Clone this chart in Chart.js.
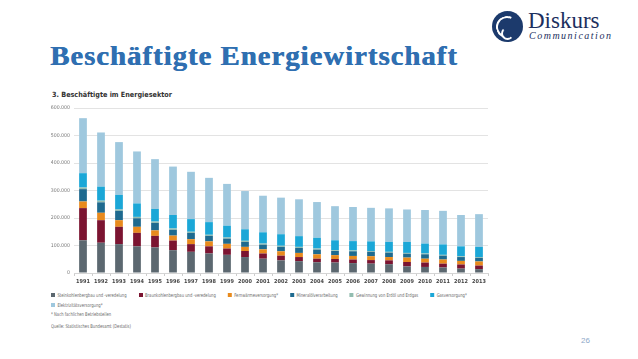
<!DOCTYPE html>
<html>
<head>
<meta charset="utf-8">
<script src="https://cdn.jsdelivr.net/npm/chart.js@4.4.0/dist/chart.umd.min.js"></script>
<style>
  body { margin: 0; width: 638px; height: 359px; background: #fff; position: relative; overflow: hidden; }
  .abs { position: absolute; white-space: nowrap; }
  #title { left: 50px; top: 41px; font: bold 27px "Liberation Serif", serif; color: #2f6fb1; letter-spacing: 1px;
           transform: scaleX(1.06); transform-origin: left top; text-shadow: 0.6px 0 0 #2f6fb1; }
  #logoCircle { left: 492px; top: 11px; width: 31px; height: 31px; border-radius: 50%; background: #1c3a6c; overflow: hidden; }
  #logoCircle .s1 { position: absolute; left: 4px; top: 5px; width: 18px; height: 18px; border-radius: 50%; border: 2px solid #fff; border-color: #fff transparent transparent #fff; transform: rotate(-20deg); }
  #logoCircle .s2 { position: absolute; left: 9px; top: 16px; width: 9px; height: 9px; border-radius: 50%; border: 2px solid #fff; border-color: transparent transparent #fff #fff; }
  #logoName { left: 528px; top: 8px; font: 23px "Liberation Serif", serif; color: #1c2f5e; }
  #logoSub { left: 529px; top: 30px; font: italic 10px "Liberation Serif", serif; color: #1c2f5e; letter-spacing: 1.5px; }
  #sub { left: 52px; top: 90px; font: bold 7.2px "Liberation Sans Narrow", "DejaVu Sans Condensed", sans-serif; color: #333; }
  #chartBox { left: 40px; top: 100px; width: 455px; height: 187px; }
  #legend { left: 51px; top: 291px; width: 540px; display: flex; flex-wrap: wrap; column-gap: 15px; row-gap: 3px;
            font: 5.2px "Liberation Sans Narrow", "DejaVu Sans Condensed", sans-serif; color: #666;
            transform: scaleX(0.8); transform-origin: left top; }
  #legend span.item { display: flex; align-items: center; height: 7px; }
  #legend i { display: inline-block; width: 5px; height: 4px; margin-right: 3px; }
  .note { font: 5.2px "Liberation Sans Narrow", "DejaVu Sans Condensed", sans-serif; color: #666; transform: scaleX(0.8); transform-origin: left top; }
  #page { left: 581px; top: 336px; font: 8px "Liberation Sans", sans-serif; color: #8ea8c8; }
</style>
</head>
<body>
<div id="title" class="abs">Beschäftigte Energiewirtschaft</div>
<div id="logoCircle" class="abs"><div class="s1"></div><div class="s2"></div></div>
<div id="logoName" class="abs">Diskurs</div>
<div id="logoSub" class="abs">Communication</div>
<div id="sub" class="abs">3. Beschäftigte im Energiesektor</div>
<div id="chartBox" class="abs"><canvas id="chart"></canvas></div>
<div id="legend" class="abs"></div>
<div class="abs note" style="left:51px; top:311px;">* Nach fachlichen Betriebsteilen</div>
<div class="abs note" style="left:51px; top:323px;">Quelle: Statistisches Bundesamt (Destatis)</div>
<div id="page" class="abs">26</div>

<script>
var years = ['1991','1992','1993','1994','1995','1996','1997','1998','1999','2000','2001','2002',
             '2003','2004','2005','2006','2007','2008','2009','2010','2011','2012','2013'];

// Beschäftigte in Tausend
var steinkohle  = [119,110,105,97,93,83,77,71,66,58,52,46,43,39,38,36,34,32,24,22,20,16,14];
var braunkohle  = [117,82,63,49,42,35,28,26,23,22,19,17,15,13,13,13,13,14,16,16,14,15,13];
var fernwaerme  = [24,27,24,22,20,18,18,18,17,15,15,16,15,16,14,13,14,12,16,14,15,13,15];
var mineraloel  = [45,38,34,31,27,21,23,20,19,18,17,16,18,17,15,17,16,16,14,16,14,14,13];
var erdoelGas   = [6,6,5,5,5,5,4,4,4,4,4,4,4,4,3,3,3,3,3,3,3,3,3];
var gas         = [52,51,53,49,46,49,46,46,43,42,41,42,39,39,36,34,35,36,40,36,38,36,37];
var elektrizitaet = [200,197,192,189,181,176,172,161,152,139,133,133,134,130,124,124,122,122,118,122,122,114,119];

var yTicks = [0, 100000, 200000, 300000, 400000, 500000, 600000];

var series = [
  { label: 'Steinkohlenbergbau und -veredelung', values: steinkohle, color: '#5c6870' },
  { label: 'Braunkohlenbergbau und -veredelung', values: braunkohle, color: '#7b1431' },
  { label: 'Fernwärmeversorgung*', values: fernwaerme, color: '#e88a1d' },
  { label: 'Mineralölverarbeitung', values: mineraloel, color: '#1e6a8f' },
  { label: 'Gewinnung von Erdöl und Erdgas', values: erdoelGas, color: '#93bdb0' },
  { label: 'Gasversorgung*', values: gas, color: '#1ba7d7' },
  { label: 'Elektrizitätsversorgung*', values: elektrizitaet, color: '#9fc8de' }
];

var smallFont = "'Liberation Sans Narrow', 'DejaVu Sans Condensed', sans-serif";

var chart = new Chart(document.getElementById('chart'), {
  type: 'bar',
  data: {
    labels: years,
    datasets: series.map(function (s) {
      return {
        label: s.label,
        data: s.values.map(function (v) { return v * 1000; }),
        backgroundColor: s.color,
        borderWidth: 0,
        barPercentage: 0.43,
        categoryPercentage: 1
      };
    })
  },
  options: {
    responsive: true,
    maintainAspectRatio: false,
    animation: false,
    layout: { padding: { top: 8, right: 7, left: 0, bottom: 0 } },
    plugins: { legend: { display: false }, tooltip: { enabled: false } },
    scales: {
      x: {
        stacked: true,
        grid: { display: true, drawOnChartArea: false, offset: true, tickLength: 3, color: '#ccc' },
        border: { color: '#d5d5d5' },
        ticks: { font: { family: smallFont, size: 5.5, weight: 'bold' }, color: '#444', padding: 2, maxRotation: 0 },
        afterFit: function (s) { s.height = 14; }
      },
      y: {
        stacked: true,
        min: 0,
        max: 600000,
        afterBuildTicks: function (s) { s.ticks = yTicks.map(function (v) { return { value: v }; }); },
        grid: { color: '#e3e3e3', drawTicks: false },
        border: { display: false },
        ticks: {
          font: { family: smallFont, size: 5.2 },
          color: '#777',
          padding: 4,
          callback: function (v) { return v.toLocaleString('de-DE'); }
        },
        afterFit: function (s) { s.width = 34; }
      }
    }
  }
});

var legend = document.getElementById('legend');
series.forEach(function (s) {
  var item = document.createElement('span');
  item.className = 'item';
  var box = document.createElement('i');
  box.style.background = s.color;
  item.appendChild(box);
  item.appendChild(document.createTextNode(s.label));
  legend.appendChild(item);
});
</script>
</body>
</html>
